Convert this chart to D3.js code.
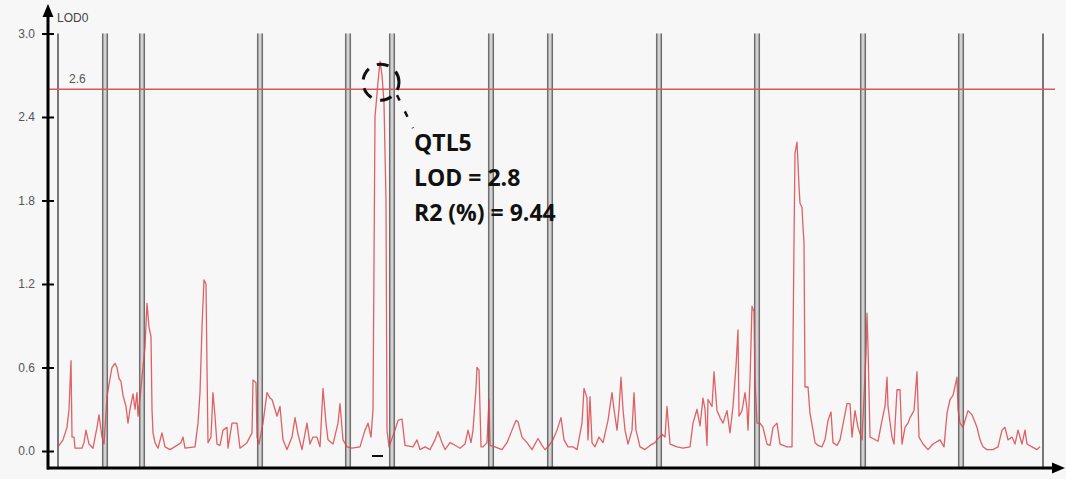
<!DOCTYPE html>
<html>
<head>
<meta charset="utf-8">
<script src="https://cdn.jsdelivr.net/npm/d3@7"></script>
<style>
  html, body { margin: 0; padding: 0; background: #f7f7f7; }
  svg { display: block; }
</style>
</head>
<body>
<svg id="chart" width="1066" height="479"></svg>
<script>
// Genome-wide LOD scan: marker positions along the concatenated map and LOD scores
const positions = [
  10, 15, 19, 21, 23, 24, 26, 27, 34, 36, 38, 41, 45, 49, 51, 54, 56,
  59, 62, 64, 67, 69, 71, 73, 75, 78, 80, 82, 85, 87, 89, 90, 92,
  97, 99, 101, 103, 104, 105, 107, 110, 114, 117, 122, 129, 133, 135, 137, 147, 150, 152, 154, 156, 158, 159, 160, 163, 165, 167, 169, 172, 175, 179, 180, 184, 189, 192, 199, 204, 205, 208, 209, 211,
  215, 219, 222, 224, 227, 229, 232, 235, 239, 244, 247, 250, 254, 259, 262, 265, 269, 272, 275, 278, 280, 285, 290, 292, 295, 299,
  304, 312, 317, 320, 323, 325, 327, 330, 332, 334, 336, 338, 339, 341,
  347, 350, 354, 357, 365, 369, 372, 377, 382, 387, 390, 394, 397, 402, 405, 412, 417, 420, 423, 425, 428, 429, 431, 433, 435, 439, 441, 442,
  447, 454, 459, 464, 468, 470, 474, 479, 484, 490, 494, 497, 500,
  505, 509, 513, 516, 520, 525, 529, 534, 536, 539, 540, 542, 544, 547, 551, 555, 560, 564, 566, 569, 571, 573, 575, 577, 580, 584, 586, 588, 592, 597, 602, 607, 609,
  614, 617, 619, 622, 629, 635, 642, 645, 649, 652, 655, 657, 659, 660, 664, 666, 669, 672, 675, 679, 682, 685, 688, 690, 691, 694, 697, 699, 700, 702, 704, 706, 707, 709,
  712, 715, 719, 722, 725, 729, 732, 739, 744, 746, 747, 749, 750, 751, 752, 754, 755, 756, 757, 760, 762, 765, 767, 770, 774, 777, 780, 783, 785, 789, 792, 799, 802, 804, 807, 810, 814,
  818, 819, 820, 822, 825, 830, 834, 837, 839, 840, 844, 846, 849, 852, 854, 857, 860, 862, 866, 869, 871, 875, 880, 885, 892, 896, 899, 902, 905, 909, 910, 912,
  915, 920, 924, 929, 932, 935, 939, 945, 950, 954, 957, 960, 964, 967, 970, 974, 977, 979, 984, 989, 992
];
const lod = [
  0.03, 0.08, 0.17, 0.30, 0.65, 0.10, 0.10, 0.02, 0.02, 0.06, 0.15, 0.05, 0.02, 0.17, 0.26, 0.10, 0.05,
  0.39, 0.52, 0.60, 0.63, 0.60, 0.52, 0.50, 0.40, 0.32, 0.20, 0.30, 0.41, 0.30, 0.42, 0.25, 0.38,
  0.75, 1.06, 0.89, 0.82, 0.30, 0.13, 0.06, 0.02, 0.13, 0.03, 0.01, 0.04, 0.06, 0.10, 0.02, 0.03, 0.20, 0.42, 0.89, 1.23, 1.20, 0.60, 0.06, 0.10, 0.42, 0.25, 0.05, 0.04, 0.15, 0.17, 0.02, 0.20, 0.20, 0.02, 0.06, 0.13, 0.51, 0.49, 0.10, 0.05,
  0.20, 0.42, 0.38, 0.37, 0.30, 0.25, 0.32, 0.08, 0.01, 0.10, 0.24, 0.12, 0.01, 0.20, 0.05, 0.10, 0.10, 0.03, 0.45, 0.20, 0.08, 0.05, 0.20, 0.34, 0.08, 0.03,
  0.02, 0.03, 0.15, 0.20, 0.10, 0.30, 2.40, 2.65, 2.80, 2.70, 2.50, 1.80, 0.15, 0.03,
  0.15, 0.22, 0.23, 0.04, 0.03, 0.08, 0.01, 0.03, 0.01, 0.08, 0.14, 0.06, 0.01, 0.06, 0.05, 0.02, 0.05, 0.15, 0.06, 0.15, 0.45, 0.60, 0.58, 0.03, 0.03, 0.06, 0.37, 0.04,
  0.03, 0.01, 0.06, 0.15, 0.22, 0.21, 0.10, 0.06, 0.01, 0.09, 0.04, 0.01, 0.03,
  0.08, 0.15, 0.24, 0.08, 0.03, 0.03, 0.01, 0.20, 0.45, 0.38, 0.08, 0.39, 0.06, 0.03, 0.10, 0.06, 0.22, 0.42, 0.30, 0.15, 0.30, 0.53, 0.30, 0.15, 0.05, 0.15, 0.42, 0.15, 0.03, 0.01, 0.04, 0.06, 0.08,
  0.12, 0.10, 0.32, 0.05, 0.03, 0.02, 0.03, 0.20, 0.30, 0.18, 0.38, 0.30, 0.04, 0.37, 0.32, 0.57, 0.29, 0.24, 0.20, 0.29, 0.13, 0.32, 0.61, 0.87, 0.25, 0.29, 0.42, 0.30, 0.15, 0.51, 1.04, 1.00, 0.51, 0.20,
  0.20, 0.17, 0.05, 0.04, 0.17, 0.20, 0.05, 0.03, 0.03, 1.50, 2.14, 2.22, 2.07, 1.90, 1.78, 1.75, 1.61, 1.50, 0.46, 0.46, 0.27, 0.15, 0.06, 0.04, 0.03, 0.08, 0.22, 0.28, 0.06, 0.04, 0.08, 0.34, 0.34, 0.10, 0.29, 0.17, 0.08,
  0.70, 0.99, 0.75, 0.10, 0.09, 0.07, 0.22, 0.32, 0.53, 0.32, 0.10, 0.05, 0.44, 0.44, 0.05, 0.17, 0.20, 0.24, 0.29, 0.57, 0.10, 0.05, 0.01, 0.05, 0.08, 0.03, 0.27, 0.37, 0.40, 0.53, 0.30, 0.20,
  0.17, 0.29, 0.26, 0.17, 0.08, 0.03, 0.01, 0.01, 0.03, 0.15, 0.17, 0.08, 0.10, 0.05, 0.15, 0.05, 0.15, 0.05, 0.03, 0.01, 0.03
];

// Linkage-group boundaries (double lines) and the map ends (single lines)
const groupBoundaries = [57, 94, 212, 300, 344, 443, 502, 611, 709, 815, 913];
const mapEnds = [10, 995];
const yTicks = [0.0, 0.6, 1.2, 1.8, 2.4, 3.0];
const threshold = 2.6;
const qtlLabel = ["QTL5", "LOD = 2.8", "R2 (%) = 9.44"];
const qtlPeak = { position: 332, lod: 2.8 };
const supportInterval = [324, 335];

const svg = d3.select("#chart");
const x = d3.scaleLinear().domain([0, 1015]).range([48, 1063]);
const y = d3.scaleLinear().domain([0, 3]).range([451, 33.5]);
const baseY = 468;
const topY = y(3);

// Linkage-group separators
const sep = svg.append("g");
groupBoundaries.forEach(p => {
  const cx = x(p);
  sep.append("rect").attr("x", cx - 3).attr("y", topY).attr("width", 6).attr("height", baseY - topY)
    .attr("fill", "#d2d2d2");
  [-2.3, 2.3].forEach(o => sep.append("line")
    .attr("x1", cx + o).attr("x2", cx + o).attr("y1", topY).attr("y2", baseY)
    .attr("stroke", "#6f6f6f").attr("stroke-width", 1.5));
});
mapEnds.forEach(p => {
  sep.append("line").attr("x1", x(p)).attr("x2", x(p)).attr("y1", topY).attr("y2", baseY)
    .attr("stroke", "#777").attr("stroke-width", 2);
});

// Significance threshold
svg.append("line")
  .attr("x1", 48).attr("x2", 1055).attr("y1", y(threshold)).attr("y2", y(threshold))
  .attr("stroke", "#d9595b").attr("stroke-width", 1.5);
svg.append("text").attr("x", 69).attr("y", y(threshold) - 6)
  .attr("font-family", "Arial, 'Liberation Sans', sans-serif").attr("font-size", 12)
  .attr("fill", "#555").text(threshold.toFixed(1));

// LOD profile
const pts = positions.map((p, i) => [p, lod[i]]);
svg.append("path").datum(pts)
  .attr("fill", "none").attr("stroke", "#d9474b").attr("stroke-width", 1.3)
  .attr("stroke-linejoin", "round").attr("opacity", 0.85)
  .attr("d", d3.line().x(d => x(d[0])).y(d => y(d[1])));

// Support-interval marker under the QTL
svg.append("line")
  .attr("x1", x(supportInterval[0])).attr("x2", x(supportInterval[1]))
  .attr("y1", 456).attr("y2", 456).attr("stroke", "#111").attr("stroke-width", 2);

// Y axis
const yAxis = d3.axisLeft(y).tickValues(yTicks).tickFormat(d3.format(".1f"))
  .tickSizeInner(6).tickSizeOuter(0).tickPadding(7);
const ya = svg.append("g").attr("transform", "translate(48,0)").call(yAxis);
ya.select(".domain").remove();
ya.selectAll(".tick line").attr("x1", -6).attr("x2", 6).attr("stroke", "#000").attr("stroke-width", 2);
ya.selectAll(".tick text").attr("font-family", "Arial, 'Liberation Sans', sans-serif")
  .attr("font-size", 12).attr("fill", "#555");

// Axis lines with arrowheads
svg.append("line").attr("x1", 48).attr("x2", 48).attr("y1", baseY + 1.5).attr("y2", 14)
  .attr("stroke", "#000").attr("stroke-width", 3);
svg.append("path").attr("d", "M48,4 L42.5,17 L53.5,17 Z").attr("fill", "#000");
svg.append("line").attr("x1", 47).attr("x2", 1055).attr("y1", baseY).attr("y2", baseY)
  .attr("stroke", "#000").attr("stroke-width", 3);
svg.append("path").attr("d", "M1065,468 L1052,462.5 L1052,473.5 Z").attr("fill", "#000");
svg.append("text").attr("x", 57).attr("y", 22)
  .attr("font-family", "Arial, 'Liberation Sans', sans-serif").attr("font-size", 12)
  .attr("fill", "#444").text("LOD0");

// QTL annotation
const px = x(qtlPeak.position), py = y(threshold) - 7;
svg.append("ellipse").attr("cx", px + 1).attr("cy", py).attr("rx", 18).attr("ry", 18)
  .attr("fill", "none").attr("stroke", "#111").attr("stroke-width", 3)
  .attr("stroke-dasharray", "12,9").attr("stroke-dashoffset", 4);
svg.append("line").attr("x1", px + 17).attr("y1", py + 13).attr("x2", px + 33).attr("y2", py + 46)
  .attr("stroke", "#111").attr("stroke-width", 2.5).attr("stroke-dasharray", "6,12");
svg.append("g").selectAll("text").data(qtlLabel).join("text")
  .attr("x", 414).attr("y", (d, i) => 151 + i * 35)
  .attr("font-family", "'Open Sans', sans-serif").attr("font-weight", "bold")
  .attr("font-size", 23).attr("fill", "#111").text(d => d);
</script>
</body>
</html>
